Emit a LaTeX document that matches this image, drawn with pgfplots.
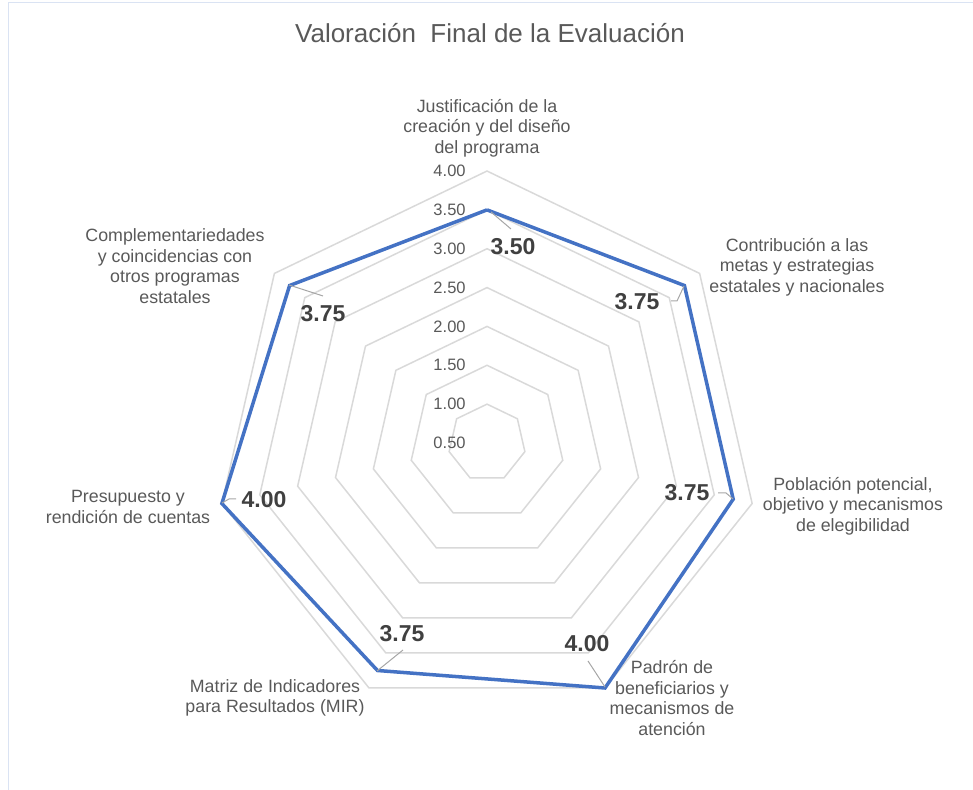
\documentclass[border=0pt]{standalone}
\usepackage{pgfplots}
\pgfplotsset{compat=1.18}
\usepackage{pgfplotstable}
\usepackage{fontspec}
\setmainfont{Liberation Sans}
\definecolor{linecol}{HTML}{4472C4}
\definecolor{ringcol}{HTML}{D9D9D9}
\definecolor{txtcol}{HTML}{595959}
\definecolor{lblcol}{HTML}{404040}
\definecolor{leadcol}{HTML}{A6A6A6}
\definecolor{framecol}{HTML}{DAE3F3}

\pgfplotstableread{
a v
90 3.50
38.5714 3.75
-12.8571 3.75
-64.2857 4.00
-115.7143 3.75
-167.1429 4.00
-218.5714 3.75
90 3.50
}\datatable

\begin{document}
\begin{tikzpicture}
\path[use as bounding box] (0,0) rectangle (486.5pt,395pt);
\begin{axis}[
  at={(0,0)}, anchor=south west,
  scale only axis, width=486.5pt, height=395pt,
  xmin=-6.2677, xmax=6.2548, ymin=-4.4659, ymax=5.7014,
  hide axis, clip=false]
\pgfplotsinvokeforeach{0.5,1,1.5,2,2.5,3,3.5}{
  \draw[ringcol, line width=0.75pt, line join=miter]
   (axis cs:{#1*cos(90)},{#1*sin(90)}) --
   (axis cs:{#1*cos(38.5714)},{#1*sin(38.5714)}) --
   (axis cs:{#1*cos(-12.8571)},{#1*sin(-12.8571)}) --
   (axis cs:{#1*cos(-64.2857)},{#1*sin(-64.2857)}) --
   (axis cs:{#1*cos(-115.7143)},{#1*sin(-115.7143)}) --
   (axis cs:{#1*cos(-167.1429)},{#1*sin(-167.1429)}) --
   (axis cs:{#1*cos(-218.5714)},{#1*sin(-218.5714)}) -- cycle;
}
\addplot[color=linecol, line width=1.75pt, line join=miter, mark=none]
  table[x expr={(\thisrow{v}-0.5)*cos(\thisrow{a})},
        y expr={(\thisrow{v}-0.5)*sin(\thisrow{a})}] {\datatable};
\end{axis}
\begin{scope}[x=0.5pt, y=-0.5pt, yshift=395pt]
  % frame
  \draw[framecol, line width=0.5pt] (8,790) -- (8,3) -- (973,3);
  % title
  \node[txtcol, font=\fontsize{13}{15}\selectfont] at (490,33) {Valoración\ \ Final de la Evaluación};
  % tick labels
  \begin{scope}[every node/.style={anchor=east, txtcol, font=\fontsize{8.25}{9}\selectfont, inner sep=0pt}]
  \node at (466,443) {0.50};
  \node at (466,404.1) {1.00};
  \node at (466,365.3) {1.50};
  \node at (466,326.4) {2.00};
  \node at (466,287.6) {2.50};
  \node at (466,248.7) {3.00};
  \node at (466,209.9) {3.50};
  \node at (466,171) {4.00};
  \end{scope}
  % leader lines
  \begin{scope}[leadcol, line width=0.5pt]
  \draw (491,212) -- (511,229);
  \draw (671,301) -- (677,301) -- (684,286);
  \draw (718,493) -- (726,493) -- (733,499);
  \draw (588,661) -- (605,687);
  \draw (403,650) -- (377,671);
  \draw (222,503) -- (229,499) -- (236,499);
  \draw (289,285) -- (323,296);
  \end{scope}
  % data labels
  \begin{scope}[every node/.style={lblcol, font=\fontsize{11.5}{13}\selectfont\bfseries}]
  \node at (513,247) {3.50};
  \node at (637,302) {3.75};
  \node at (687,493) {3.75};
  \node at (587,644) {4.00};
  \node at (402,634) {3.75};
  \node at (264,500) {4.00};
  \node at (323,314) {3.75};
  \end{scope}
  % category labels
  \begin{scope}[every node/.style={txtcol, align=center, font=\fontsize{8.9}{10.25}\selectfont}]
  \node at (487,128) {Justificación de la\\creación y del diseño\\del programa};
  \node at (797,267) {Contribución a las\\metas y estrategias\\estatales y nacionales};
  \node at (853,506) {Población potencial,\\objetivo y mecanismos\\de elegibilidad};
  \node at (672,698) {Padrón de\\beneficiarios y\\mecanismos de\\atención};
  \node at (275,698) {Matriz de Indicadores\\para Resultados (MIR)};
  \node at (128,507) {Presupuesto y\\rendición de cuentas};
  \node at (175,266) {Complementariedades\\y coincidencias con\\otros programas\\estatales};
  \end{scope}
\end{scope}
\end{tikzpicture}
\end{document}
